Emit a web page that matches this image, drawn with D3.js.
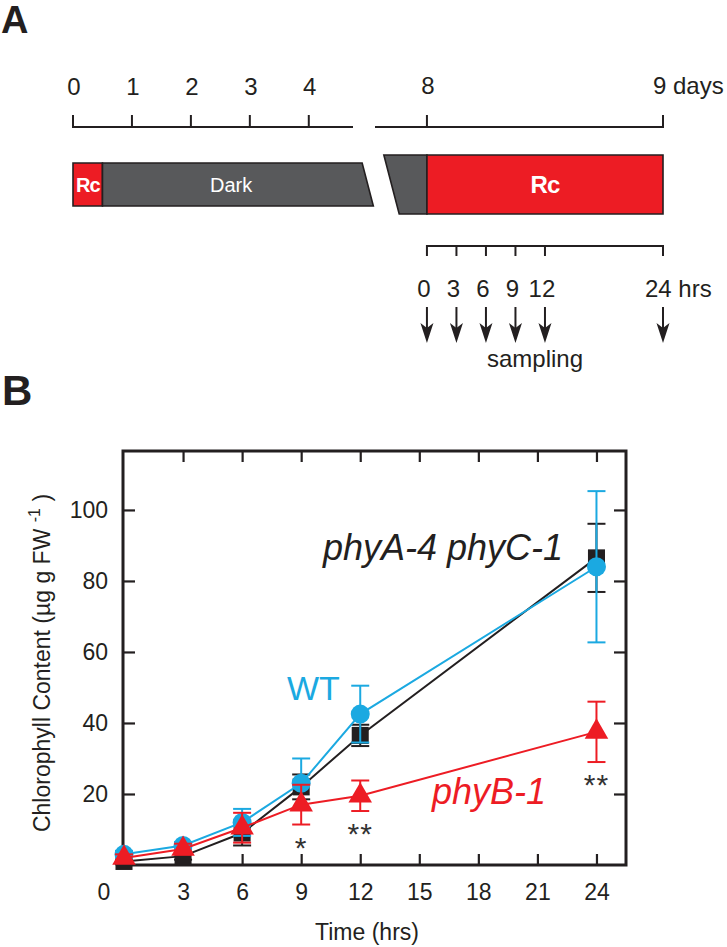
<!DOCTYPE html>
<html>
<head>
<meta charset="utf-8">
<script src="https://cdn.jsdelivr.net/npm/d3@7"></script>
<style>
  body { margin: 0; background: #fff; }
  svg { display: block; font-family: "Liberation Sans", Arial, sans-serif; }
</style>
</head>
<body>
<svg width="727" height="947"></svg>
<script>
// ---- panel A data ----
const dayTicksEarly = [0, 1, 2, 3, 4];
const dayTicksLate = [8, 9];
const hourTicks = [0, 3, 6, 9, 12, 24];
const samplingHours = [0, 3, 6, 9, 12, 24];
// light regime, in days
const earlyPhases = [{ label: "Rc", from: 0, to: 0.5, light: true },
                     { label: "Dark", from: 0.5, to: 5.0, light: false }];
const latePhases = [{ label: "", from: 7.85, to: 8, light: false },
                    { label: "Rc", from: 8, to: 9, light: true }];

// ---- panel B data ----
const hours = [0, 3, 6, 9, 12, 24];
const wtMean = [3, 5.5, 12, 23, 42.5, 84];
const wtErr = [1, 1, 3.8, 7, 8, 21.3];
const acMean = [1, 2.5, 9, 22, 36.5, 86.5];
const acErr = [0.8, 1, 3.5, 3.5, 3, 9.6];
const bMean = [2, 4.5, 10.5, 17, 19.5, 37.5];
const bErr = [1, 1.5, 4.2, 5.6, 4.3, 8.5];
const bSignif = ["", "", "", "*", "**", "**"];
const yTicks = [20, 40, 60, 80, 100];
const xTicks = [3, 6, 9, 12, 15, 18, 21, 24];

const RED = "#ED1C24", CYAN = "#1BA9E1", INK = "#231F20", GRAY = "#58595B";

var svg = d3.select("svg");

// panel letters
svg.append("text").attr("x", 1).attr("y", 33).attr("font-size", 38)
    .attr("font-weight", "bold").attr("fill", INK).text("A");
svg.append("text").attr("x", 2).attr("y", 405).attr("font-size", 42)
    .attr("font-weight", "bold").attr("fill", INK).text("B");

//
// Panel A: timeline
//
var dayEarly = d3.scaleLinear().domain([0, 4.75]).range([73, 353]);
var dayLate = d3.scaleLinear().domain([7.78, 9]).range([375, 663]);
var hourScale = d3.scaleLinear().domain([0, 24]).range([dayLate(8), dayLate(9)]);

var gA = svg.append("g").attr("fill", INK).attr("font-size", 24);

// day rulers (ticks pointing up)
function ruler(scale, ticks, y) {
    gA.append("line")
        .attr("x1", scale.range()[0]).attr("x2", scale.range()[1])
        .attr("y1", y).attr("y2", y)
        .attr("stroke", INK).attr("stroke-width", 2);
    gA.selectAll(null).data(ticks).enter().append("line")
        .attr("x1", d => scale(d)).attr("x2", d => scale(d))
        .attr("y1", y + 1).attr("y2", y - 12)
        .attr("stroke", INK).attr("stroke-width", 2);
}
ruler(dayEarly, dayTicksEarly, 127);
ruler(dayLate, dayTicksLate, 127);

gA.selectAll(null).data(dayTicksEarly).enter().append("text")
    .attr("x", d => dayEarly(d) + 1).attr("y", 95)
    .attr("text-anchor", "middle").text(d => d);
gA.append("text").attr("x", dayLate(8) + 1).attr("y", 94)
    .attr("text-anchor", "middle").text(dayTicksLate[0]);
gA.append("text").attr("x", dayLate(9) - 10).attr("y", 94)
    .text(dayTicksLate[1] + " days");

// light regime bars with a slanted break
var slant = 0.26;
function phaseBar(scale, phases, y0, y1, cutRight) {
    var h = y1 - y0;
    phases.forEach((p, i) => {
        var xa = scale(p.from), xb = scale(p.to);
        var pts;
        if (cutRight && i === phases.length - 1) {
            pts = [[xa, y0], [xb - slant * h / 2, y0], [xb + slant * h / 2, y1], [xa, y1]];
        } else if (!cutRight && i === 0) {
            pts = [[xa - slant * h / 2, y0], [xb, y0], [xb, y1], [xa + slant * h / 2, y1]];
        } else {
            pts = [[xa, y0], [xb, y0], [xb, y1], [xa, y1]];
        }
        gA.append("path")
            .attr("d", "M" + pts.join("L") + "Z")
            .attr("fill", p.light ? RED : GRAY)
            .attr("stroke", INK).attr("stroke-width", 1.6)
            .attr("stroke-linejoin", "miter");
        if (p.label) {
            var big = p.light && (xb - xa) > 100;
            gA.append("text")
                .attr("x", (xa + xb) / 2 + (p.light ? 0 : -4))
                .attr("y", (y0 + y1) / 2 + (big ? 8.5 : 7))
                .attr("text-anchor", "middle")
                .attr("fill", "#fff")
                .attr("font-weight", p.light ? "bold" : "normal")
                .attr("letter-spacing", p.light ? -1 : 0)
                .attr("font-size", big ? 24 : 20)
                .text(p.label);
        }
    });
}
phaseBar(dayEarly, earlyPhases, 163, 206, true);
phaseBar(dayLate, latePhases, 155, 214, false);

// hour ruler (ticks pointing down)
gA.append("line")
    .attr("x1", hourScale(0)).attr("x2", hourScale(24))
    .attr("y1", 246).attr("y2", 246)
    .attr("stroke", INK).attr("stroke-width", 2);
gA.selectAll(null).data(hourTicks).enter().append("line")
    .attr("x1", d => hourScale(d)).attr("x2", d => hourScale(d))
    .attr("y1", 245).attr("y2", 256)
    .attr("stroke", INK).attr("stroke-width", 2);
gA.selectAll(null).data(hourTicks).enter().append("text")
    .attr("x", d => hourScale(d) - 3).attr("y", 297)
    .attr("text-anchor", d => d === 24 ? "start" : "middle")
    .attr("dx", d => d === 24 ? -15 : 0)
    .text(d => d === 24 ? d + " hrs" : d);

// sampling arrows
var arrows = gA.selectAll(null).data(samplingHours).enter().append("g")
    .attr("transform", d => "translate(" + hourScale(d) + ",0)");
arrows.append("line").attr("x1", 0).attr("x2", 0).attr("y1", 307).attr("y2", 332)
    .attr("stroke", INK).attr("stroke-width", 2);
arrows.append("path").attr("d", "M0,343L-6.5,323L0,328L6.5,323Z").attr("fill", INK);
gA.append("text").attr("x", 535).attr("y", 367).attr("text-anchor", "middle")
    .text("sampling");

//
// Panel B: chlorophyll time course
//
var x = d3.scaleLinear().domain([0, 25.5]).range([124, 626]);
var y = d3.scaleLinear().domain([0, 116.6]).range([865, 451]);

var gB = svg.append("g");

gB.append("rect")
    .attr("x", 123).attr("y", 451).attr("width", 626 - 123).attr("height", 865 - 451)
    .attr("fill", "none").attr("stroke", INK).attr("stroke-width", 3);

function styleAxis(g) {
    g.select(".domain").remove();
    g.selectAll(".tick line").attr("stroke", INK).attr("stroke-width", 2.2);
    g.selectAll(".tick text").attr("fill", INK).attr("font-size", 23)
        .attr("font-family", "Liberation Sans, Arial, sans-serif");
}

gB.append("g").attr("transform", "translate(123,0)")
    .call(d3.axisLeft(y).tickValues(yTicks).tickSize(-12).tickPadding(15))
    .call(styleAxis);
gB.append("g").attr("transform", "translate(626,0)")
    .call(d3.axisRight(y).tickValues(yTicks).tickSize(-12).tickFormat(""))
    .call(styleAxis);
gB.append("g").attr("transform", "translate(0,865)")
    .call(d3.axisBottom(x).tickValues(xTicks).tickSize(-11).tickPadding(19))
    .call(styleAxis);
gB.append("g").attr("transform", "translate(0,451)")
    .call(d3.axisTop(x).tickValues(xTicks).tickSize(-11).tickFormat(""))
    .call(styleAxis);

// shared origin label
gB.append("text").attr("x", x(0) - 20).attr("y", 900).attr("text-anchor", "middle")
    .attr("font-size", 23).attr("fill", INK).text("0");

// axis titles
gB.append("text").attr("x", 367).attr("y", 940).attr("text-anchor", "middle")
    .attr("font-size", 23).attr("fill", INK).text("Time (hrs)");
var yt = gB.append("text").attr("transform", "translate(50,663) rotate(-90)")
    .attr("text-anchor", "middle").attr("font-size", 23).attr("fill", INK);
yt.append("tspan").text("Chlorophyll Content (\u00b5g g FW ");
yt.append("tspan").attr("font-size", 16).attr("dy", -10).text("-1");
yt.append("tspan").attr("dy", 10).text(" )");

function drawSeries(mean, err, color, shape) {
    var g = gB.append("g");
    var pts = hours.map((h, i) => ({ h: h, m: mean[i], e: err[i] }));

    // error bars
    var eb = g.selectAll(null).data(pts).enter().append("g")
        .attr("stroke", color).attr("stroke-width", 2);
    eb.append("line")
        .attr("x1", d => x(d.h)).attr("x2", d => x(d.h))
        .attr("y1", d => y(d.m + d.e)).attr("y2", d => y(Math.max(0, d.m - d.e)));
    eb.append("line")
        .attr("x1", d => x(d.h) - 9).attr("x2", d => x(d.h) + 9)
        .attr("y1", d => y(d.m + d.e)).attr("y2", d => y(d.m + d.e));
    eb.append("line")
        .attr("x1", d => x(d.h) - 9).attr("x2", d => x(d.h) + 9)
        .attr("y1", d => y(Math.max(0, d.m - d.e))).attr("y2", d => y(Math.max(0, d.m - d.e)));

    g.append("path").datum(pts)
        .attr("d", d3.line().x(d => x(d.h)).y(d => y(d.m)))
        .attr("fill", "none").attr("stroke", color).attr("stroke-width", 2);

    if (shape === "circle") {
        g.selectAll(null).data(pts).enter().append("circle")
            .attr("cx", d => x(d.h)).attr("cy", d => y(d.m)).attr("r", 9.5)
            .attr("fill", color);
    } else {
        var sym = d3.symbol().type(shape === "square" ? d3.symbolSquare : d3.symbolTriangle)
            .size(shape === "square" ? 290 : 240);
        g.selectAll(null).data(pts).enter().append("path")
            .attr("transform", d => "translate(" + x(d.h) + "," + y(d.m) + ")")
            .attr("d", sym).attr("fill", color);
    }
}

drawSeries(acMean, acErr, INK, "square");
drawSeries(wtMean, wtErr, CYAN, "circle");
drawSeries(bMean, bErr, RED, "triangle");

// significance marks under phyB-1
gB.selectAll(null).data(hours).enter().append("text")
    .attr("x", d => x(d)).attr("y", (d, i) => y(bMean[i] - bErr[i]) + 33)
    .attr("text-anchor", "middle").attr("font-size", 30).attr("letter-spacing", 1)
    .attr("fill", "#333").text((d, i) => bSignif[i]);

// genotype labels
gB.append("text").attr("x", 287).attr("y", 700).attr("font-size", 34)
    .attr("fill", CYAN).text("WT");
gB.append("text").attr("x", 323).attr("y", 560).attr("font-size", 36)
    .attr("font-style", "italic").attr("fill", INK).text("phyA-4 phyC-1");
gB.append("text").attr("x", 432).attr("y", 804).attr("font-size", 36)
    .attr("font-style", "italic").attr("fill", RED).text("phyB-1");
</script>
</body>
</html>
